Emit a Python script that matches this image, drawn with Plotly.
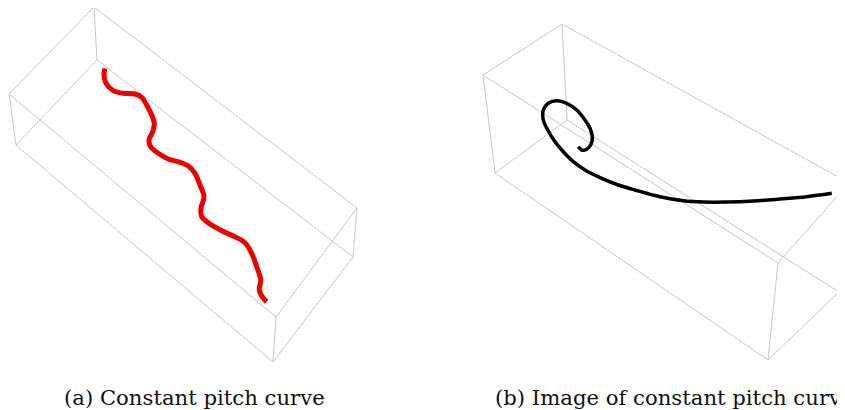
import plotly.graph_objects as go

# Box vertex positions (projected), order: A, B, F, C (top face), D, E, G, H (bottom face)
box_a_x = [94, 9, 276, 357, 97, 16, 273, 353]
box_a_y = [7, 94, 317, 208, 60, 145, 362, 257]
box_b_x = [562, 483, 778, 849, 567, 495, 768, 839]
box_b_y = [24, 75, 263, 183, 120, 173, 360, 292]
box_edges = [(0, 1), (1, 2), (2, 3), (3, 0), (4, 5), (5, 6), (6, 7), (7, 4),
             (0, 4), (1, 5), (2, 6), (3, 7)]

# Constant pitch curve (panel a)
curve_a_x = [105, 104, 106, 113.3, 123.3, 135, 141.7, 146.7, 151.7, 154.3, 152.7, 149,
             150.7, 158.3, 168.3, 180, 188.3, 195, 200, 204, 201, 201.7, 210, 221.7,
             233.3, 245, 251.7, 256.7, 260.7, 259.3, 263.3, 266.7]
curve_a_y = [68.3, 75, 83.3, 90.7, 93.3, 94, 97.3, 105, 115, 123.3, 131.7, 140,
             146.7, 153.3, 159, 162.3, 166, 173.3, 185, 196.7, 208.3, 216.7, 224, 230.7,
             236, 242.7, 253.3, 266.7, 280, 290, 298.3, 301.7]

# Image of constant pitch curve (panel b)
curve_b_x = [578.3, 581.7, 586.7, 591, 592.3, 590, 585, 576.7, 566.7, 556.7, 548.3, 543.3,
             543.3, 547.7, 555, 563.3, 573.3, 585, 601.7, 618.3, 635, 660, 683.3, 703.3,
             726.7, 753.3, 780, 806.7, 831.7]
curve_b_y = [146.7, 150, 149.3, 144.3, 136.7, 128.3, 120, 110, 103.3, 100.7, 103.3, 110,
             120, 130, 141.7, 151.7, 161.7, 170, 178.3, 185, 190, 196.7, 200.7, 202,
             202, 201, 199, 196.7, 193.3]

captions = ["(a) Constant pitch curve", "(b) Image of constant pitch curve"]
caption_x = [62, 493]


def edges_xy(vx, vy):
    xs, ys = [], []
    for i, j in box_edges:
        xs += [vx[i], vx[j], None]
        ys += [vy[i], vy[j], None]
    return xs, ys


fig = go.Figure()
for vx, vy in [(box_a_x, box_a_y), (box_b_x, box_b_y)]:
    ex, ey = edges_xy(vx, vy)
    fig.add_trace(go.Scatter(x=ex, y=ey, mode="lines",
                             line=dict(color="#c8c8c8", width=1),
                             hoverinfo="skip", showlegend=False))

fig.add_trace(go.Scatter(x=curve_a_x, y=curve_a_y, mode="lines",
                         line=dict(color="#ee0000", width=5, shape="spline"),
                         showlegend=False))
fig.add_trace(go.Scatter(x=curve_b_x, y=curve_b_y, mode="lines",
                         line=dict(color="#000000", width=3.5, shape="spline"),
                         showlegend=False))

for txt, cx in zip(captions, caption_x):
    fig.add_annotation(x=cx, y=397, xref="x", yref="y", text=txt, showarrow=False,
                       xanchor="left", yanchor="middle",
                       font=dict(family="DejaVu Serif", size=21.2, color="#111111"))

# the page body has an 8px margin: shrink the figure so the data range maps to page pixels
fig.update_layout(
    width=837, height=402,
    margin=dict(l=0, r=0, t=0, b=0),
    paper_bgcolor="white", plot_bgcolor="white",
    xaxis=dict(range=[8, 845], visible=False, fixedrange=True),
    yaxis=dict(range=[410, 8], visible=False, fixedrange=True),
)

fig.write_html("out.html")
